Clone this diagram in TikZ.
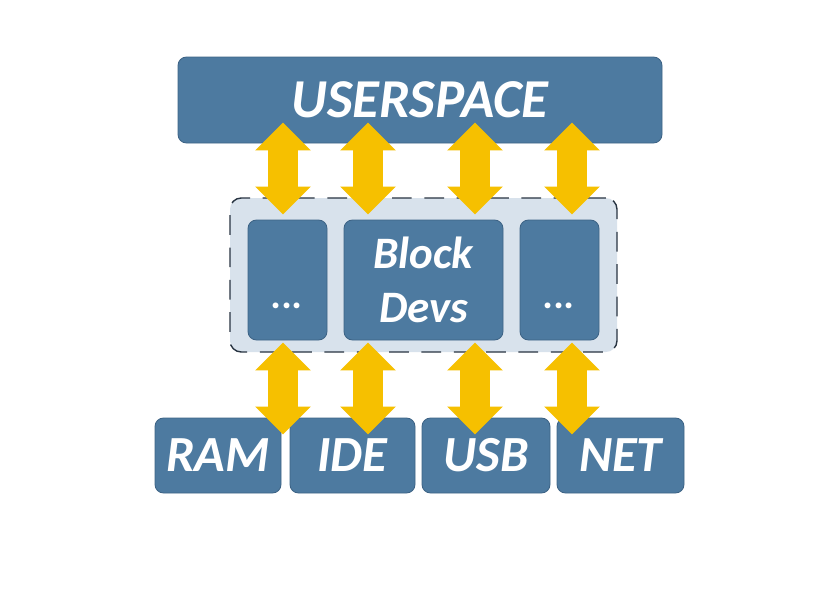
\documentclass[tikz,border=0pt]{standalone}
\usepackage{fontspec}
\setsansfont{Carlito}
\usepackage{tikz}
\usetikzlibrary{arrows.meta,positioning,calc}
\definecolor{boxblue}{RGB}{77,122,160}
\definecolor{boxedge}{RGB}{62,100,134}
\definecolor{layerfill}{RGB}{216,226,236}
\definecolor{layeredge}{RGB}{40,52,66}
\definecolor{arrowgold}{RGB}{246,192,0}

\begin{document}
\begin{tikzpicture}[
    devbox/.style={rounded corners=6pt, draw=boxedge, fill=boxblue, line width=0.6pt,
        text=white, font=\sffamily\bfseries\itshape, inner sep=0pt, align=center},
    dotbox/.style={devbox, minimum width=1.975cm, minimum height=3cm,
        text height=1.4cm, text depth=0pt, font=\sffamily\bfseries\itshape\fontsize{28}{30}\selectfont},
    layerbox/.style={rounded corners=8pt, draw=layeredge, fill=layerfill, dashed,
        dash pattern=on 14pt off 9pt, line width=1pt},
    dblarrow/.style={{Triangle[width=1.35cm,length=0.7cm]}-{Triangle[width=1.35cm,length=0.7cm]},
        arrowgold, line width=0.75cm},
]
\useasboundingbox[fill=white] (0,0) rectangle (21,-15);

% === USERSPACE ===
\node[devbox, minimum width=12.1cm, minimum height=2.15cm, font=\sffamily\bfseries\itshape\fontsize{39}{44}\selectfont]
    (us) at (10.5, -2.5) {USERSPACE};

% === BLOCK LAYER (dashed) ===
\node[layerbox, minimum width=9.675cm, minimum height=3.85cm] (layer) at (10.5875, -6.875) {};
\node[dotbox] (lft) at (7.1875, -7) {...};
\node[devbox, minimum width=3.975cm, minimum height=3cm, font=\sffamily\bfseries\itshape\fontsize{32}{38}\selectfont]
    (blk) at (10.5875, -7) {Block\\Devs};
\node[dotbox] (rgt) at (13.9875, -7) {...};

% === DEVICES ===
\tikzset{drvbox/.style={devbox, minimum height=1.875cm, font=\sffamily\bfseries\itshape\fontsize{36}{40}\selectfont}}
\node[drvbox, minimum width=3.15cm]  (ram) at (5.45, -11.3875) {RAM};
\node[drvbox, minimum width=3.125cm] (ide) at (8.8125, -11.3875) {IDE};
\node[drvbox, minimum width=3.2cm]   (usb) at (12.15, -11.3875) {USB};
\node[drvbox, minimum width=3.175cm] (net) at (15.5125, -11.3875) {NET};

% arrow columns
\coordinate (c1) at (7.075, 0);
\coordinate (c2) at (9.2, 0);
\coordinate (c3) at (11.875, 0);
\coordinate (c4) at (14.3, 0);

% === ARROWS userspace <-> block layer ===
\draw[dblarrow] ([yshift=0.525cm]c1 |- us.south) -- ([yshift=0.125cm]c1 |- lft.north);
\draw[dblarrow] ([yshift=0.525cm]c2 |- us.south) -- ([yshift=0.125cm]c2 |- blk.north);
\draw[dblarrow] ([yshift=0.525cm]c3 |- us.south) -- ([yshift=0.125cm]c3 |- blk.north);
\draw[dblarrow] ([yshift=0.525cm]c4 |- us.south) -- ([yshift=0.125cm]c4 |- rgt.north);

% === ARROWS block layer <-> devices ===
\draw[dblarrow] ([yshift=-0.05cm]c1 |- lft.south) -- ([yshift=-0.425cm]c1 |- ram.north);
\draw[dblarrow] ([yshift=-0.05cm]c2 |- blk.south) -- ([yshift=-0.425cm]c2 |- ide.north);
\draw[dblarrow] ([yshift=-0.05cm]c3 |- blk.south) -- ([yshift=-0.425cm]c3 |- usb.north);
\draw[dblarrow] ([yshift=-0.05cm]c4 |- rgt.south) -- ([yshift=-0.425cm]c4 |- net.north);

\end{tikzpicture}
\end{document}
